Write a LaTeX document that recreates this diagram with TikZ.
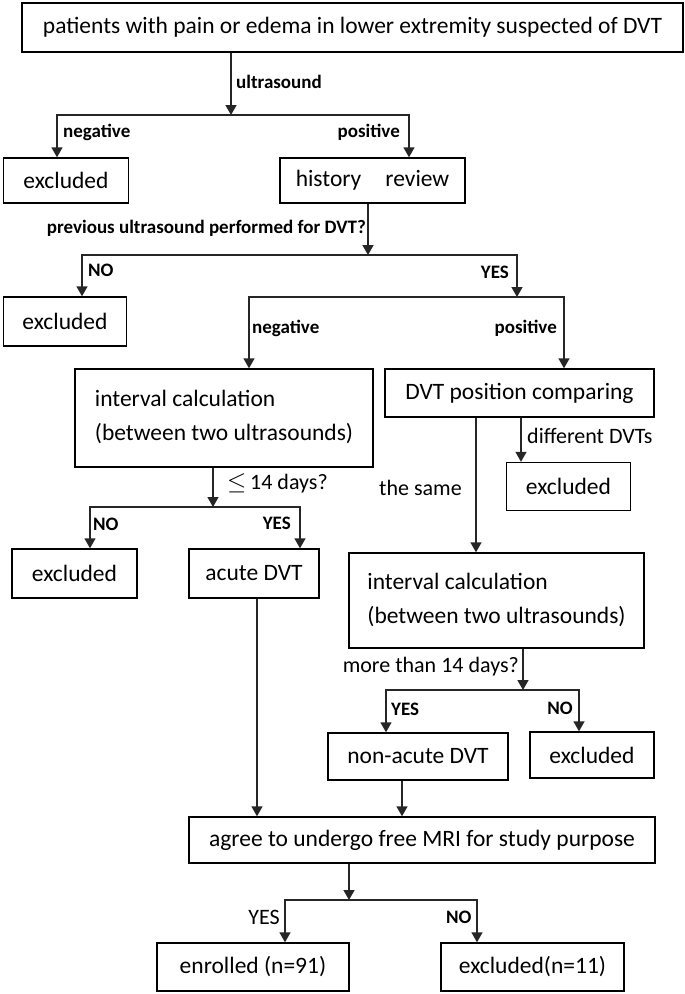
\documentclass[tikz,border=0pt]{standalone}
\usepackage{fontspec}
\setmainfont{Carlito}
\usetikzlibrary{arrows.meta}
\newcommand{\twolines}[2]{\raisebox{5pt}{\begin{tabular}{@{}l@{}}#1\\[6pt]#2\end{tabular}}}
\begin{document}
\begin{tikzpicture}[x=1pt,y=-1pt,
  box/.style={draw=black, line width=1.4pt, font=\fontsize{23.5}{28}\selectfont, inner sep=0pt, align=center},
  conn/.style={line width=1.4pt, draw=black!85},
  arr/.style={conn, -{Triangle[length=10pt,width=11pt]}},
  lab/.style={font=\bfseries\fontsize{19}{22}\selectfont, inner sep=0pt},
  rlab/.style={font=\fontsize{22}{26}\selectfont, inner sep=0pt}]
\useasboundingbox (0,0) rectangle (685,994);
% boxes
\node[box, minimum width=661, minimum height=49] (top) at (352.5,27.5) {patients with pain or edema in lower extremity suspected of DVT};
\node[box, minimum width=124.5, minimum height=45] (exc1) at (66,180.5) {excluded};
\node[box, minimum width=185, minimum height=45] (hist) at (372.5,180.5) {history\hspace{24pt}review};
\node[box, minimum width=123.5, minimum height=49] (exc2) at (65,321.5) {excluded};
\node[box, minimum width=298, minimum height=98] (int1) at (224,418) {\twolines{interval calculation}{(between two ultrasounds)}};
\node[box, minimum width=269, minimum height=48] (dvt) at (519.5,393) {DVT position comparing};
\node[box, minimum width=124, minimum height=48] (exc3) at (568.5,486.5) {excluded};
\node[box, minimum width=125, minimum height=49] (exc4) at (74.5,573.5) {excluded};
\node[box, minimum width=130, minimum height=49] (acute) at (254,573.5) {acute DVT};
\node[box, minimum width=295, minimum height=95] (int2) at (496.5,600.5) {\twolines{interval calculation}{(between two ultrasounds)}};
\node[box, minimum width=180, minimum height=47] (nonac) at (418,756.5) {non-acute DVT};
\node[box, minimum width=124, minimum height=46] (exc5) at (592,755) {excluded};
\node[box, minimum width=466, minimum height=46] (agree) at (422,840) {agree to undergo free MRI for study purpose};
\node[box, minimum width=192, minimum height=48] (enr) at (253,967) {enrolled (n=91)};
\node[box, minimum width=183, minimum height=48] (exc6) at (532.5,967) {excluded(n=11)};
% labels
\node[lab, anchor=west] (l1) at (236,82) {ultrasound};
\node[lab, anchor=west] (l2) at (63,132) {negative};
\node[lab, anchor=east] (l3) at (400,132) {positive};
\node[lab, anchor=east] (l4) at (366,228) {previous ultrasound performed for DVT?};
\node[lab, anchor=west] (l5) at (88,270) {NO};
\node[lab, anchor=east] (l6) at (509,272) {YES};
\node[lab, anchor=west] (l7) at (252,328) {negative};
\node[lab, anchor=east] (l8) at (557,328) {positive};
\node[rlab, anchor=west] (l9) at (527,436) {different DVTs};
\node[rlab, anchor=west] (l10) at (379,488) {the same};
\node[rlab, anchor=west] (l11) at (227,483) {{\fontsize{27}{27}\selectfont$\leq$}\,14 days?};
\node[lab, anchor=west] (l12) at (93,524) {NO};
\node[lab, anchor=east] (l13) at (291,523) {YES};
\node[rlab, anchor=east] (l14) at (519,667) {more than 14 days?};
\node[lab, anchor=west] (l15) at (391,709) {YES};
\node[lab, anchor=east] (l16) at (573,708) {NO};
\node[rlab, anchor=east] (l17) at (280,917) {YES};
\node[lab, anchor=west] (l18) at (446,917) {NO};
% junctions
\coordinate (j1) at (231,115); \coordinate (j1l) at (57,115); \coordinate (j1r) at (409,115);
\coordinate (j2) at (368,255); \coordinate (j2l) at (82,255); \coordinate (j2r) at (517,255);
\coordinate (j3) at (517,297); \coordinate (j3l) at (249,297); \coordinate (j3r) at (564,297);
\coordinate (d1) at (476,0); \coordinate (d2) at (521,0);
\coordinate (j4) at (213,507); \coordinate (j4l) at (90,507); \coordinate (j4r) at (300,507);
\coordinate (a1) at (257,0); \coordinate (a2) at (402,0);
\coordinate (j5) at (523,690); \coordinate (j5l) at (386,690); \coordinate (j5r) at (579,690);
\coordinate (j6) at (349,900); \coordinate (j6l) at (285,900); \coordinate (j6r) at (477,900);
% connectors
\draw[arr] (top.south -| j1) -- (j1);
\draw[arr] (j1) -- (j1l) -- (j1l |- exc1.north);
\draw[arr] (j1) -- (j1r) -- (j1r |- hist.north);
\draw[arr] (hist.south -| j2) -- (j2);
\draw[arr] (j2) -- (j2l) -- (j2l |- exc2.north);
\draw[arr] (j2) -- (j2r) -- (j3);
\draw[arr] (j3) -- (j3l) -- (j3l |- int1.north);
\draw[arr] (j3) -- (j3r) -- (j3r |- dvt.north);
\draw[arr] (dvt.south -| d1) -- (int2.north -| d1);
\draw[arr] (dvt.south -| d2) -- (exc3.north -| d2);
\draw[arr] (int1.south -| j4) -- (j4);
\draw[arr] (j4) -- (j4l) -- (j4l |- exc4.north);
\draw[arr] (j4) -- (j4r) -- (j4r |- acute.north);
\draw[arr] (acute.south -| a1) -- (agree.north -| a1);
\draw[arr] (int2.south -| j5) -- (j5);
\draw[arr] (j5) -- (j5l) -- (j5l |- nonac.north);
\draw[arr] (j5) -- (j5r) -- (j5r |- exc5.north);
\draw[arr] (nonac.south -| a2) -- (agree.north -| a2);
\draw[arr] (agree.south -| j6) -- (j6);
\draw[arr] (j6) -- (j6l) -- (j6l |- enr.north);
\draw[arr] (j6) -- (j6r) -- (j6r |- exc6.north);
\end{tikzpicture}
\end{document}
